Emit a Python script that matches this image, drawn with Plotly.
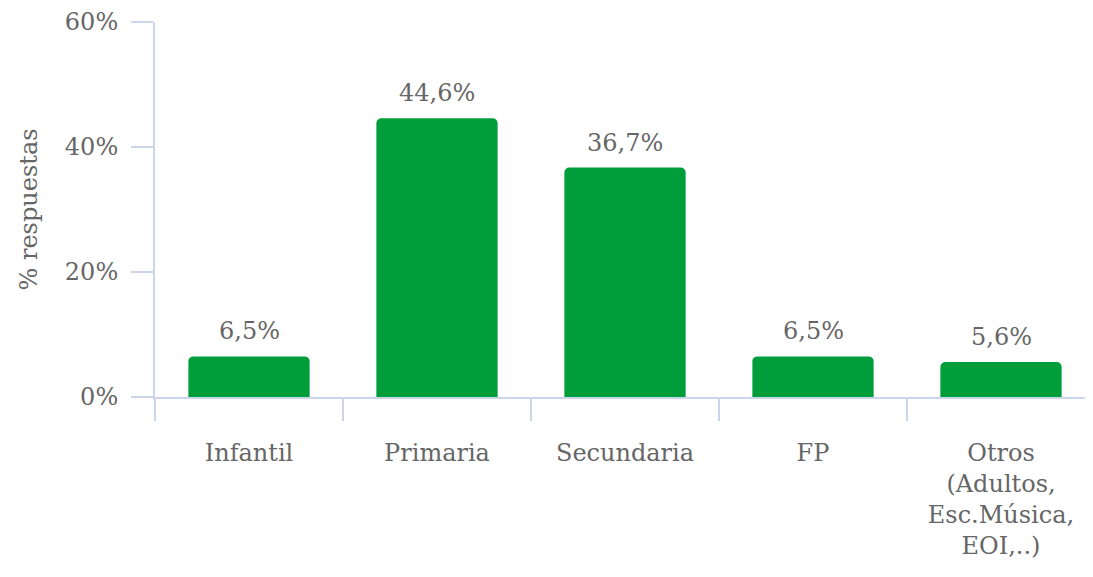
import plotly.graph_objects as go

categories = ["Infantil", "Primaria", "Secundaria", "FP",
              "Otros<br>(Adultos,<br>Esc.Música,<br>EOI,..)"]
values = [6.5, 44.6, 36.7, 6.5, 5.6]
y_ticks = [0, 20, 40, 60]
y_ticktext = ["0%", "20%", "40%", "60%"]

FONT = "DejaVu Serif"
TXT = "#666666"
AX = "#ccd6eb"
FS = 24

fig = go.Figure()
fig.add_trace(go.Bar(
    x=categories, y=values,
    marker=dict(color="#009e3a", cornerradius=5, line=dict(width=0)),
    width=0.645,
    hoverinfo="skip",
))

for c, v in zip(categories, values):
    fig.add_annotation(
        x=c, y=v, text=f"{v:.1f}".replace(".", ",") + "%",
        showarrow=False, yanchor="bottom", yshift=9,
        font=dict(family=FONT, size=FS, color=TXT),
    )

fig.update_layout(
    width=1087, height=569,
    margin=dict(l=147, r=0, t=14, b=180),
    paper_bgcolor="white", plot_bgcolor="white",
    showlegend=False,
    font=dict(family=FONT, size=FS, color=TXT),
)
fig.update_xaxes(
    type="category",
    showline=True, linecolor=AX, linewidth=2,
    ticks="outside", tickson="boundaries", ticklen=22, tickcolor=AX, tickwidth=2,
    showgrid=False, zeroline=False,
    tickfont=dict(family=FONT, size=FS, color=TXT),
    ticklabelstandoff=33,
)
fig.update_yaxes(
    range=[0, 60], tickvals=y_ticks, ticktext=y_ticktext,
    showline=True, linecolor=AX, linewidth=2,
    ticks="outside", ticklen=22, tickcolor=AX, tickwidth=2,
    showgrid=False, zeroline=False,
    tickfont=dict(family=FONT, size=FS, color=TXT),
    ticklabelstandoff=8,
    title=dict(text="% respuestas", font=dict(family=FONT, size=FS, color=TXT), standoff=20),
)

fig.write_html("out.html")
